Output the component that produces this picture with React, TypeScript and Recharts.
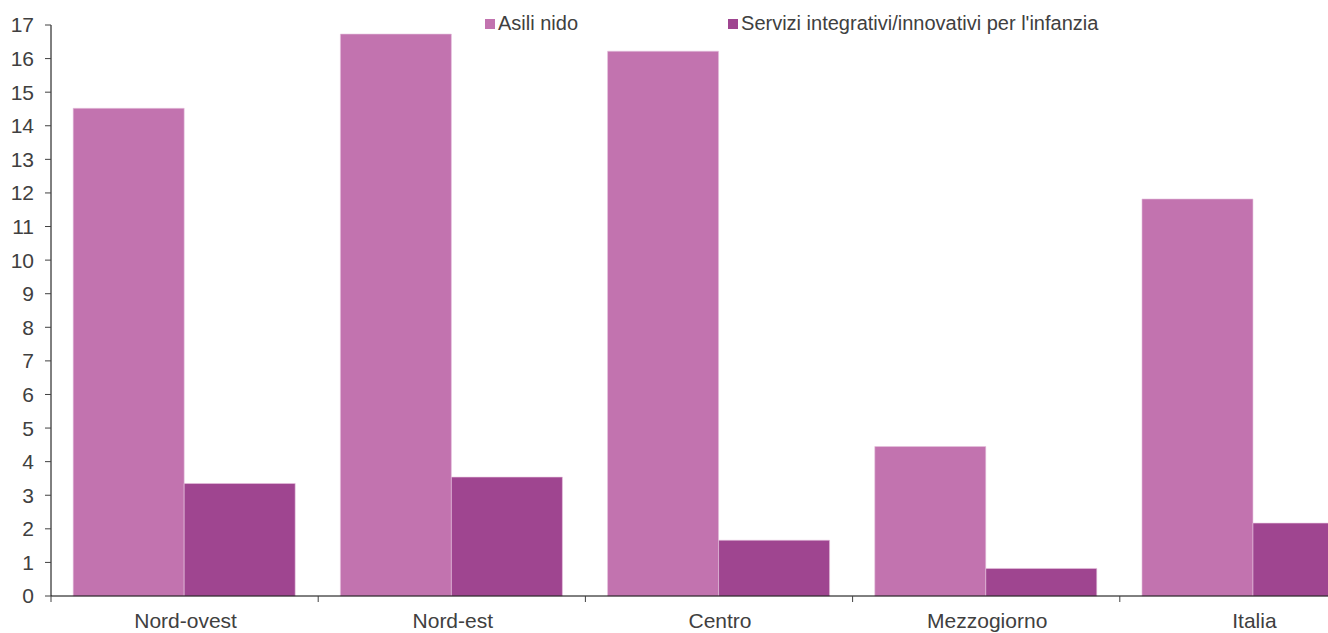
import { Bar, BarChart, Legend, XAxis, YAxis } from 'recharts'

const CATEGORIES = ['Nord-ovest', 'Nord-est', 'Centro', 'Mezzogiorno', 'Italia']
const ASILI_NIDO = [14.52, 16.73, 16.22, 4.45, 11.82]
const SERVIZI_INTEGRATIVI = [3.35, 3.54, 1.66, 0.82, 2.17]
const Y_TICKS = [0, 1, 2, 3, 4, 5, 6, 7, 8, 9, 10, 11, 12, 13, 14, 15, 16, 17]

const SERIES = [
  { key: 'asili', name: 'Asili nido', color: '#c273af' },
  { key: 'servizi', name: "Servizi integrativi/innovativi per l'infanzia", color: '#9f4590' },
]

const CHART_W = 1400
const CHART_H = 633
const MARGIN = { top: 25, right: 13, left: 6, bottom: 7 }
const Y_AXIS_W = 45
const TEXT = '#404040'
const FONT = '"Liberation Sans", Arial, sans-serif'

// half a category band, so the tick marks sit between the groups
const HALF_BAND = (CHART_W - MARGIN.left - MARGIN.right - Y_AXIS_W) / CATEGORIES.length / 2

const data = CATEGORIES.map((name, i) => ({
  name,
  asili: ASILI_NIDO[i],
  servizi: SERVIZI_INTEGRATIVI[i],
}))

function CategoryTick({ x, y, payload }: any) {
  return (
    <g>
      <line x1={x - HALF_BAND} x2={x - HALF_BAND} y1={y} y2={y + 6} stroke={TEXT} />
      <text x={x + 1} y={y + 32} textAnchor="middle" fill={TEXT} fontSize={21} fontFamily={FONT}>
        {payload.value}
      </text>
    </g>
  )
}

function LegendContent() {
  return (
    <div style={{ display: 'flex', alignItems: 'center', fontSize: 20, color: TEXT, fontFamily: FONT }}>
      {SERIES.map((s, i) => (
        <div key={s.key} style={{ display: 'flex', alignItems: 'center', marginRight: i === 0 ? 150 : 0 }}>
          <span style={{ display: 'inline-block', width: 10, height: 10, background: s.color, marginRight: 3 }} />
          <span>{s.name}</span>
        </div>
      ))}
    </div>
  )
}

export default function App() {
  return (
    <div
      style={{
        position: 'absolute',
        left: 0,
        top: 0,
        width: 1328,
        height: 633,
        overflow: 'hidden',
        background: '#fff',
        fontFamily: FONT,
      }}
    >
      <BarChart width={CHART_W} height={CHART_H} data={data} margin={MARGIN} barCategoryGap="8.3%" barGap={0}>
        <XAxis
          dataKey="name"
          height={30}
          axisLine={{ stroke: '#000' }}
          tickLine={false}
          tickSize={0}
          tickMargin={0}
          interval={0}
          tick={<CategoryTick />}
        />
        <YAxis
          width={Y_AXIS_W}
          domain={[0, 17]}
          ticks={Y_TICKS}
          interval={0}
          axisLine={{ stroke: '#000' }}
          tickLine={{ stroke: TEXT }}
          tickSize={6}
          tickMargin={11}
          tick={{ fill: TEXT, fontSize: 21, fontFamily: FONT }}
        />
        <Legend
          layout="horizontal"
          verticalAlign="middle"
          align="center"
          wrapperStyle={{ top: 12, left: 485, width: 'auto' }}
          content={<LegendContent />}
        />
        {SERIES.map((s) => (
          <Bar
            key={s.key}
            dataKey={s.key}
            name={s.name}
            fill={s.color}
            stroke="#e6c3de"
            strokeWidth={0.6}
            isAnimationActive={false}
          />
        ))}
      </BarChart>
    </div>
  )
}
